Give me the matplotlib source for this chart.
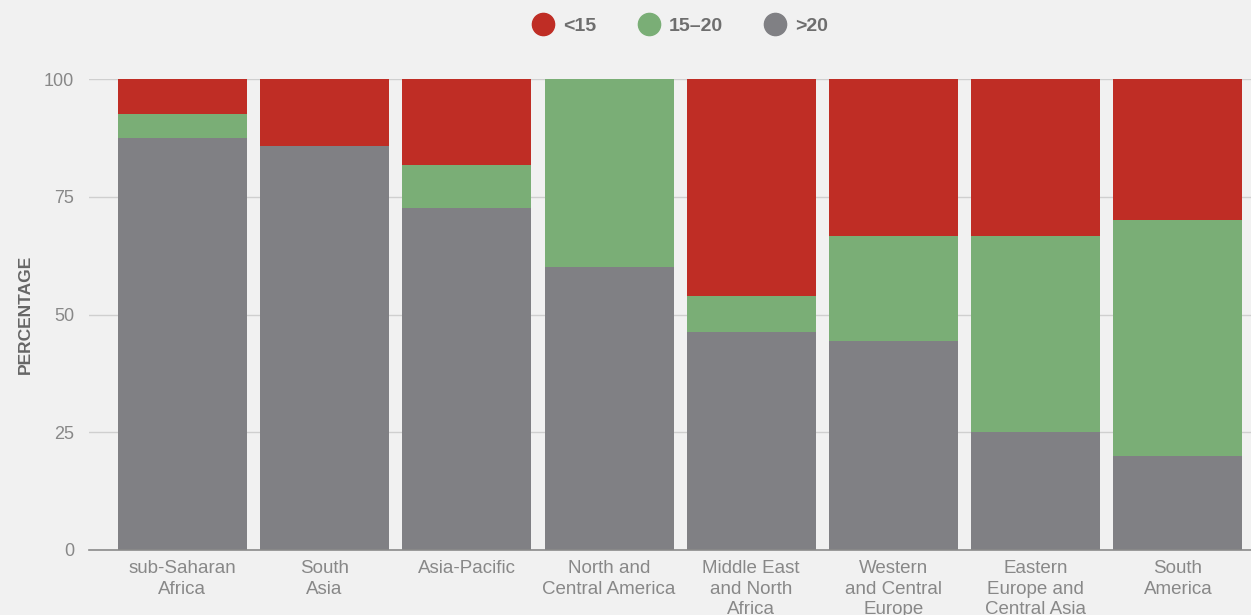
import matplotlib.pyplot as plt
import numpy as np

# Datos (porcentaje por región)
regiones = ['sub-Saharan\nAfrica', 'South\nAsia', 'Asia-Pacific', 'North and\nCentral America',
            'Middle East\nand North\nAfrica', 'Western\nand Central\nEurope',
            'Eastern\nEurope and\nCentral Asia', 'South\nAmerica']
mayor_20 = [87.5, 85.7, 72.7, 60.0, 46.2, 44.4, 25.0, 20.0]
entre_15_20 = [5.0, 0.0, 9.1, 40.0, 7.7, 22.2, 41.7, 50.0]
menor_15 = [7.5, 14.3, 18.2, 0.0, 46.1, 33.4, 33.3, 30.0]
series_nombres = ['<15', '15–20', '>20']
colores = ['#BF2D25', '#7AAE76', '#808084']
yticks = [0, 25, 50, 75, 100]

fondo = '#F1F1F1'
plt.rcParams.update({'font.family': ['Liberation Sans', 'DejaVu Sans']})

fig = plt.figure(figsize=(12.51, 6.15), dpi=100, facecolor=fondo)
ax = fig.add_axes([0.0711, 0.1057, 0.9289, 0.7658], facecolor=fondo)

x = np.arange(len(regiones))
ancho = 0.907
a = np.array(mayor_20)
b = np.array(entre_15_20)
c = np.array(menor_15)
ax.bar(x, a, ancho, color=colores[2], zorder=2)
ax.bar(x, b, ancho, bottom=a, color=colores[1], zorder=2)
ax.bar(x, c, ancho, bottom=a + b, color=colores[0], zorder=2)

ax.set_xlim(-0.657, 7.514)
ax.set_ylim(0, 100)
ax.set_yticks(yticks)
ax.set_yticklabels([str(v) for v in yticks])
ax.set_xticks(x)
ax.set_xticklabels(regiones, linespacing=1.24)
ax.tick_params(axis='y', length=0, pad=10.5, labelsize=13, labelcolor='#888888')
ax.tick_params(axis='x', length=0, pad=7.5, labelsize=13.5, labelcolor='#888888')
ax.grid(axis='y', color='#CFCFCF', linewidth=1, zorder=0)
for s in ['top', 'right', 'left']:
    ax.spines[s].set_visible(False)
ax.spines['bottom'].set_color('#8A8A8A')
ax.spines['bottom'].set_linewidth(1.2)
ax.spines['bottom'].set_zorder(3)

ax.set_ylabel('PERCENTAGE', fontsize=12.5, fontweight='bold', color='#666666')
ax.yaxis.set_label_coords(-0.048, 0.5)

# Leyenda con círculos
handles = [plt.Line2D([], [], marker='o', linestyle='', markersize=16,
                      markerfacecolor=col, markeredgecolor=col) for col in colores]
leg = ax.legend(handles, series_nombres, ncol=3, loc='center', bbox_to_anchor=(0.505, 1.112),
                frameon=False, handletextpad=0.0, columnspacing=1.72, prop={'weight': 'bold', 'size': 14})
for t in leg.get_texts():
    t.set_color('#6E6E6E')

fig.savefig('out.png', dpi=100, facecolor=fondo)
